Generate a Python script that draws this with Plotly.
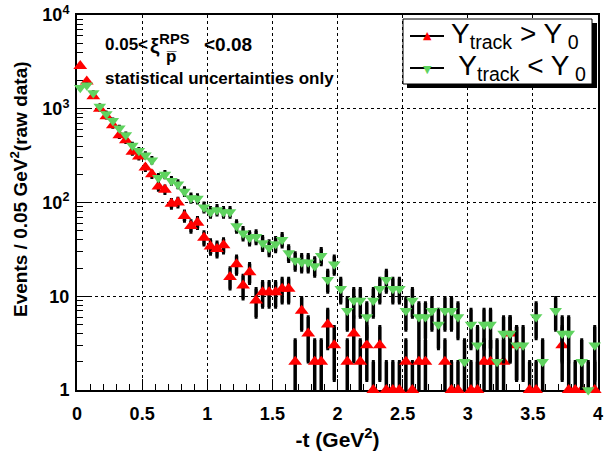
import numpy as np
import plotly.graph_objects as go

# histogram binning: 80 bins of 0.05 GeV^2 from 0 to 4
bin_edges = np.linspace(0.0, 4.0, 81)
t_centers = 0.5 * (bin_edges[:-1] + bin_edges[1:])

# counts per bin, Y_track > Y_0 (red)
counts_up = [2850, 1950, 1360, 1000, 830, 665, 520, 460, 348, 310,
             236, 200, 148, 137, 97, 100, 72, 56, 61, 42,
             34, 32, 35, 16, 22, 13, 18, 9, 11, 11,
             11, 12, 12, 2, 7, 4, 2, 2, 5, 3,
             0, 2, 4, 2, 3, 1, 3, 1, 1, 1,
             2, 1, 2, 2, 0, 0, 2, 1, 1, 0,
             1, 1, 2, 2, 0, 2, 4, 3, 0, 1,
             1, 0, 0, 0, 3, 1, 1, 1, 0, 1]

# counts per bin, Y_track < Y_0 (green)
counts_down = [1680, 1780, 1470, 1060, 880, 745, 620, 525, 405, 356,
               320, 283, 184, 199, 171, 157, 131, 112, 110, 89,
               79, 83, 79, 79, 56, 47, 42, 43, 37, 33,
               36, 40, 29, 24, 23, 23, 21, 27, 15, 22,
               12, 7, 9, 9, 6, 9, 12, 15, 12, 12,
               7, 9, 6, 6, 7, 5, 7, 7, 6, 2,
               5, 3, 5, 5, 2, 4, 4, 3, 3, 0,
               6, 2, 0, 7, 4, 4, 0, 2, 1, 3]

y_tickvals = [1, 10, 100, 1000, 10000]
y_ticktext = ["<b>1</b>", "<b>10</b>", "<b>10<sup>2</sup></b>", "<b>10<sup>3</sup></b>", "<b>10<sup>4</sup></b>"]
x_tickvals = [0, 0.5, 1, 1.5, 2, 2.5, 3, 3.5, 4]
x_ticktext = ["<b>0</b>", "<b>0.5</b>", "<b>1</b>", "<b>1.5</b>", "<b>2</b>",
              "<b>2.5</b>", "<b>3</b>", "<b>3.5</b>", "<b>4</b>"]

RED = "#ff0000"
GREEN = "#5fd35f"
FONT = "Liberation Sans"

fig = go.Figure()


def add_series(counts, color, symbol, size):
    c = np.array(counts, dtype=float)
    m = c > 0
    x = t_centers[m]
    y = c[m]
    err = np.sqrt(y)
    err_minus = np.minimum(err, y * 0.999)
    fig.add_trace(go.Scatter(
        x=x, y=y, mode="markers", showlegend=False, cliponaxis=True,
        marker=dict(size=1, color="rgba(0,0,0,0)"),
        error_y=dict(type="data", array=err, arrayminus=err_minus,
                     color="black", thickness=3.5, width=1.5),
        hoverinfo="skip"))
    fig.add_trace(go.Scatter(
        x=x, y=y, mode="markers", showlegend=False, cliponaxis=False,
        marker=dict(symbol=symbol, size=size, color=color, line=dict(width=0))))


add_series(counts_up, RED, "triangle-up", 12)
add_series(counts_down, GREEN, "triangle-down", 11)

L, R, T, B = 77, 15, 15, 61
W, H = 613, 451
PW, PH = W - L - R, H - T - B


def px(xp):
    return (xp - L) / PW


def py(yp):
    return (H - B - yp) / PH


shapes = []
# legend shadow and box
shapes.append(dict(type="rect", xref="paper", yref="paper",
                   x0=px(407), x1=px(597), y0=py(88), y1=py(23),
                   fillcolor="black", line=dict(width=0), layer="above"))
shapes.append(dict(type="rect", xref="paper", yref="paper",
                   x0=px(403), x1=px(592), y0=py(84), y1=py(19),
                   fillcolor="white", line=dict(color="black", width=1), layer="above"))
for yy in (36, 68):
    shapes.append(dict(type="line", xref="paper", yref="paper",
                       x0=px(410), x1=px(444), y0=py(yy), y1=py(yy),
                       line=dict(color="black", width=2), layer="above"))

bold = dict(family=FONT, color="black", weight="bold")
annotations = [
    dict(x=px(427), y=py(35), text="▲", font=dict(family="DejaVu Sans", size=11, color=RED)),
    dict(x=px(427), y=py(69), text="▼", font=dict(family="DejaVu Sans", size=11, color=GREEN)),
    dict(x=px(449), y=py(35), xanchor="left",
         text="Y<sub>track</sub> > Y<sub> 0</sub>",
         font=dict(family=FONT, size=28, color="black")),
    dict(x=px(449), y=py(67), xanchor="left",
         text=" Y<sub>track</sub> < Y<sub> 0</sub>",
         font=dict(family=FONT, size=28, color="black")),
    dict(x=px(103), y=py(45), xanchor="left",
         text="<b>0.05<</b>", font=dict(bold, size=17)),
    dict(x=px(148), y=py(44), xanchor="left",
         text="<b>ξ<sup>RPS</sup></b>", font=dict(bold, size=21)),
    dict(x=px(171), y=py(57), xanchor="center",
         text="<b>p̅</b>", font=dict(bold, size=17)),
    dict(x=px(202), y=py(45), xanchor="left",
         text="<b><0.08</b>", font=dict(bold, size=19)),
    dict(x=px(103), y=py(79), xanchor="left",
         text="<b>statistical uncertainties only</b>", font=dict(bold, size=17)),
    dict(x=px(19), y=py(189), textangle=-90,
         text="<b>Events / 0.05 GeV<sup>2</sup>(raw data)</b>", font=dict(bold, size=19)),
]
for a in annotations:
    a.setdefault("xref", "paper")
    a.setdefault("yref", "paper")
    a.setdefault("showarrow", False)
    a.setdefault("yanchor", "middle")
    a.setdefault("xanchor", "center")

fig.update_layout(
    width=W, height=H,
    margin=dict(l=L, r=R, t=T, b=B, pad=0, autoexpand=False),
    paper_bgcolor="white", plot_bgcolor="white",
    font=dict(family=FONT, color="black"),
    shapes=shapes, annotations=annotations,
    xaxis=dict(
        range=[0, 4], tickmode="array", tickvals=x_tickvals, ticktext=x_ticktext,
        ticks="inside", ticklen=11, tickwidth=1, tickcolor="black",
        ticklabelstandoff=6, automargin=False,
        minor=dict(dtick=0.1, ticks="inside", ticklen=6, tickcolor="black", showgrid=False),
        showgrid=True, gridcolor="black", griddash="dot", gridwidth=1,
        showline=True, linecolor="black", linewidth=2, mirror=True,
        zeroline=False, layer="below traces",
        tickfont=dict(bold, size=18),
        title=dict(text="<b>-t (GeV<sup>2</sup>)</b>", font=dict(bold, size=21), standoff=10),
    ),
    yaxis=dict(
        type="log", range=[0, 4], tickmode="array", tickvals=y_tickvals, ticktext=y_ticktext,
        ticks="inside", ticklen=12, tickwidth=1, tickcolor="black",
        ticklabelstandoff=2, automargin=False,
        minor=dict(dtick="D1", ticks="inside", ticklen=6, tickcolor="black", showgrid=False),
        showgrid=True, gridcolor="black", griddash="dot", gridwidth=1,
        showline=True, linecolor="black", linewidth=2, mirror=True,
        zeroline=False, layer="below traces",
        tickfont=dict(bold, size=18),
    ),
)

fig.write_html("out.html")
